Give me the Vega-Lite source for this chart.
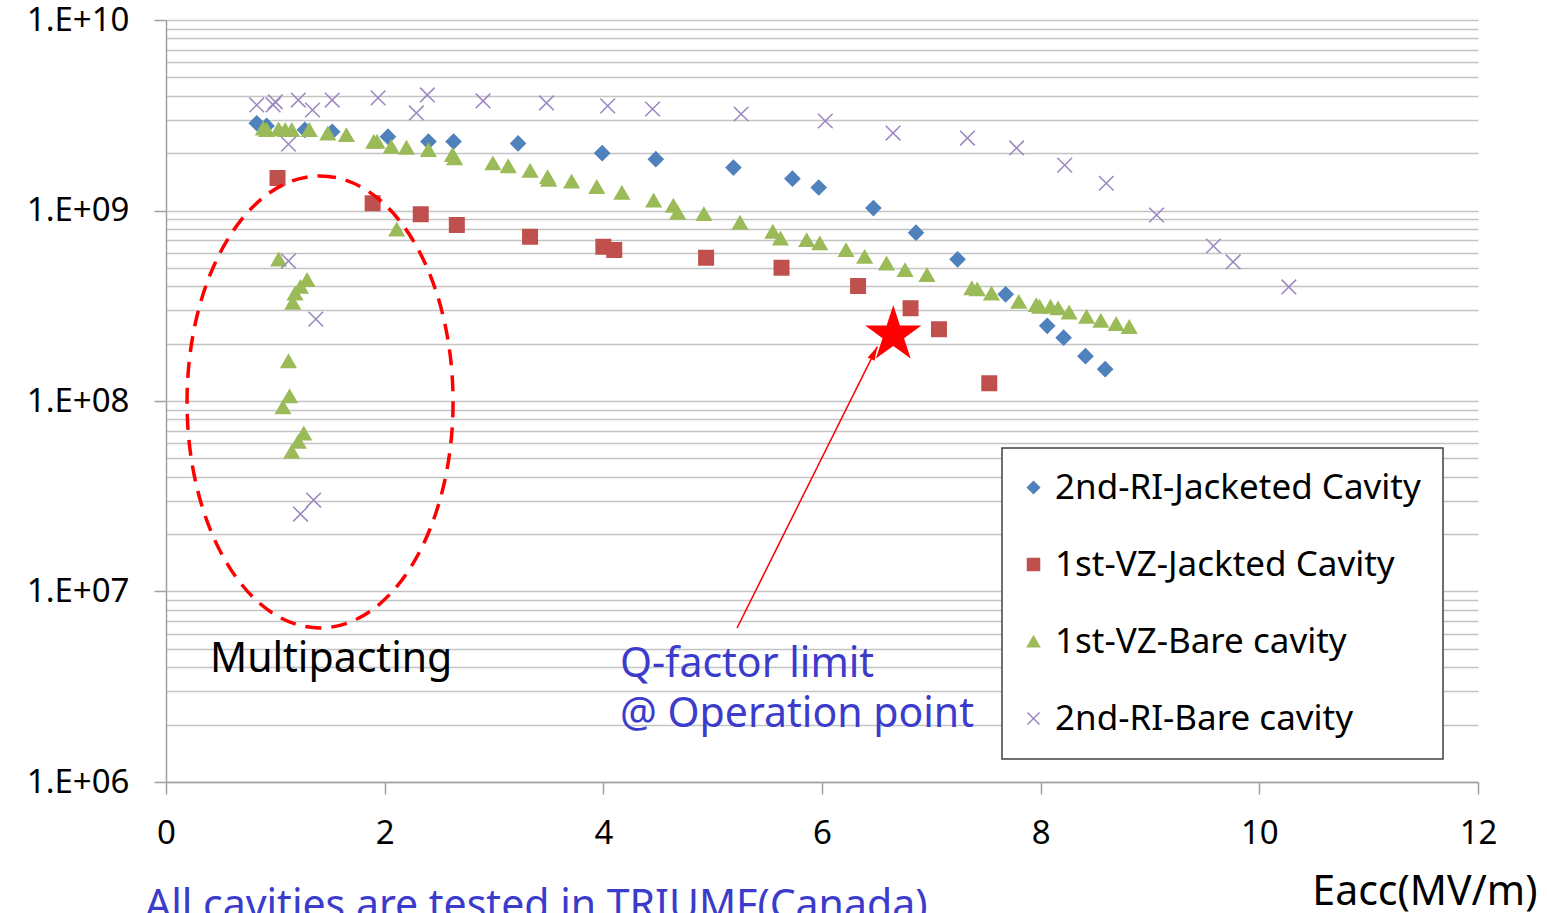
{
  "$schema": "https://vega.github.io/schema/vega-lite/v6.json",
  "autosize": {"type": "none"},
  "padding": {"left": 166, "top": 20, "right": 69, "bottom": 131},
  "width": 1312,
  "height": 762,
  "background": "white",
  "config": {
    "font": "Noto Sans",
    "view": {"stroke": null},
    "legend": {"strokeWidth": 1.5}
  },
  "datasets": {
    "pts": [
      {"s": "2nd-RI-Jacketed Cavity", "e": 0.83, "q": 2.87e9},
      {"s": "2nd-RI-Jacketed Cavity", "e": 0.92, "q": 2.78e9},
      {"s": "2nd-RI-Jacketed Cavity", "e": 1.27, "q": 2.65e9},
      {"s": "2nd-RI-Jacketed Cavity", "e": 1.52, "q": 2.59e9},
      {"s": "2nd-RI-Jacketed Cavity", "e": 2.03, "q": 2.44e9},
      {"s": "2nd-RI-Jacketed Cavity", "e": 2.40, "q": 2.30e9},
      {"s": "2nd-RI-Jacketed Cavity", "e": 2.63, "q": 2.30e9},
      {"s": "2nd-RI-Jacketed Cavity", "e": 3.22, "q": 2.25e9},
      {"s": "2nd-RI-Jacketed Cavity", "e": 3.99, "q": 2.00e9},
      {"s": "2nd-RI-Jacketed Cavity", "e": 4.48, "q": 1.86e9},
      {"s": "2nd-RI-Jacketed Cavity", "e": 5.19, "q": 1.68e9},
      {"s": "2nd-RI-Jacketed Cavity", "e": 5.73, "q": 1.47e9},
      {"s": "2nd-RI-Jacketed Cavity", "e": 5.97, "q": 1.32e9},
      {"s": "2nd-RI-Jacketed Cavity", "e": 6.47, "q": 1.03e9},
      {"s": "2nd-RI-Jacketed Cavity", "e": 6.86, "q": 7.65e8},
      {"s": "2nd-RI-Jacketed Cavity", "e": 7.24, "q": 5.54e8},
      {"s": "2nd-RI-Jacketed Cavity", "e": 7.68, "q": 3.63e8},
      {"s": "2nd-RI-Jacketed Cavity", "e": 8.06, "q": 2.48e8},
      {"s": "2nd-RI-Jacketed Cavity", "e": 8.21, "q": 2.15e8},
      {"s": "2nd-RI-Jacketed Cavity", "e": 8.41, "q": 1.72e8},
      {"s": "2nd-RI-Jacketed Cavity", "e": 8.59, "q": 1.47e8},
      {"s": "1st-VZ-Jackted Cavity", "e": 1.02, "q": 1.48e9},
      {"s": "1st-VZ-Jackted Cavity", "e": 1.89, "q": 1.09e9},
      {"s": "1st-VZ-Jackted Cavity", "e": 2.33, "q": 9.55e8},
      {"s": "1st-VZ-Jackted Cavity", "e": 2.66, "q": 8.39e8},
      {"s": "1st-VZ-Jackted Cavity", "e": 3.33, "q": 7.28e8},
      {"s": "1st-VZ-Jackted Cavity", "e": 4.00, "q": 6.45e8},
      {"s": "1st-VZ-Jackted Cavity", "e": 4.10, "q": 6.20e8},
      {"s": "1st-VZ-Jackted Cavity", "e": 4.94, "q": 5.65e8},
      {"s": "1st-VZ-Jackted Cavity", "e": 5.63, "q": 5.01e8},
      {"s": "1st-VZ-Jackted Cavity", "e": 6.33, "q": 4.02e8},
      {"s": "1st-VZ-Jackted Cavity", "e": 6.81, "q": 3.07e8},
      {"s": "1st-VZ-Jackted Cavity", "e": 7.07, "q": 2.38e8},
      {"s": "1st-VZ-Jackted Cavity", "e": 7.53, "q": 1.24e8},
      {"s": "1st-VZ-Bare cavity", "e": 0.89, "q": 2.70e9},
      {"s": "1st-VZ-Bare cavity", "e": 0.92, "q": 2.65e9},
      {"s": "1st-VZ-Bare cavity", "e": 1.03, "q": 2.67e9},
      {"s": "1st-VZ-Bare cavity", "e": 1.09, "q": 2.65e9},
      {"s": "1st-VZ-Bare cavity", "e": 1.15, "q": 2.65e9},
      {"s": "1st-VZ-Bare cavity", "e": 1.31, "q": 2.65e9},
      {"s": "1st-VZ-Bare cavity", "e": 1.48, "q": 2.54e9},
      {"s": "1st-VZ-Bare cavity", "e": 1.65, "q": 2.49e9},
      {"s": "1st-VZ-Bare cavity", "e": 1.90, "q": 2.30e9},
      {"s": "1st-VZ-Bare cavity", "e": 1.93, "q": 2.30e9},
      {"s": "1st-VZ-Bare cavity", "e": 2.06, "q": 2.16e9},
      {"s": "1st-VZ-Bare cavity", "e": 2.20, "q": 2.14e9},
      {"s": "1st-VZ-Bare cavity", "e": 2.40, "q": 2.08e9},
      {"s": "1st-VZ-Bare cavity", "e": 2.62, "q": 1.96e9},
      {"s": "1st-VZ-Bare cavity", "e": 2.64, "q": 1.88e9},
      {"s": "1st-VZ-Bare cavity", "e": 2.99, "q": 1.77e9},
      {"s": "1st-VZ-Bare cavity", "e": 3.13, "q": 1.71e9},
      {"s": "1st-VZ-Bare cavity", "e": 3.33, "q": 1.62e9},
      {"s": "1st-VZ-Bare cavity", "e": 3.49, "q": 1.50e9},
      {"s": "1st-VZ-Bare cavity", "e": 3.50, "q": 1.45e9},
      {"s": "1st-VZ-Bare cavity", "e": 3.71, "q": 1.42e9},
      {"s": "1st-VZ-Bare cavity", "e": 3.94, "q": 1.33e9},
      {"s": "1st-VZ-Bare cavity", "e": 4.17, "q": 1.24e9},
      {"s": "1st-VZ-Bare cavity", "e": 4.46, "q": 1.13e9},
      {"s": "1st-VZ-Bare cavity", "e": 4.64, "q": 1.06e9},
      {"s": "1st-VZ-Bare cavity", "e": 4.68, "q": 9.74e8},
      {"s": "1st-VZ-Bare cavity", "e": 4.92, "q": 9.59e8},
      {"s": "1st-VZ-Bare cavity", "e": 5.25, "q": 8.63e8},
      {"s": "1st-VZ-Bare cavity", "e": 5.55, "q": 7.74e8},
      {"s": "1st-VZ-Bare cavity", "e": 5.62, "q": 7.14e8},
      {"s": "1st-VZ-Bare cavity", "e": 5.86, "q": 7.00e8},
      {"s": "1st-VZ-Bare cavity", "e": 5.98, "q": 6.73e8},
      {"s": "1st-VZ-Bare cavity", "e": 6.22, "q": 6.20e8},
      {"s": "1st-VZ-Bare cavity", "e": 6.39, "q": 5.72e8},
      {"s": "1st-VZ-Bare cavity", "e": 6.59, "q": 5.28e8},
      {"s": "1st-VZ-Bare cavity", "e": 6.76, "q": 4.87e8},
      {"s": "1st-VZ-Bare cavity", "e": 6.96, "q": 4.59e8},
      {"s": "1st-VZ-Bare cavity", "e": 7.37, "q": 3.91e8},
      {"s": "1st-VZ-Bare cavity", "e": 7.42, "q": 3.86e8},
      {"s": "1st-VZ-Bare cavity", "e": 7.55, "q": 3.67e8},
      {"s": "1st-VZ-Bare cavity", "e": 7.80, "q": 3.32e8},
      {"s": "1st-VZ-Bare cavity", "e": 7.96, "q": 3.19e8},
      {"s": "1st-VZ-Bare cavity", "e": 7.99, "q": 3.13e8},
      {"s": "1st-VZ-Bare cavity", "e": 8.09, "q": 3.13e8},
      {"s": "1st-VZ-Bare cavity", "e": 8.16, "q": 3.07e8},
      {"s": "1st-VZ-Bare cavity", "e": 8.26, "q": 2.92e8},
      {"s": "1st-VZ-Bare cavity", "e": 8.42, "q": 2.77e8},
      {"s": "1st-VZ-Bare cavity", "e": 8.55, "q": 2.64e8},
      {"s": "1st-VZ-Bare cavity", "e": 8.69, "q": 2.54e8},
      {"s": "1st-VZ-Bare cavity", "e": 8.81, "q": 2.45e8},
      {"s": "1st-VZ-Bare cavity", "e": 1.03, "q": 5.54e8},
      {"s": "1st-VZ-Bare cavity", "e": 1.29, "q": 4.32e8},
      {"s": "1st-VZ-Bare cavity", "e": 1.23, "q": 3.98e8},
      {"s": "1st-VZ-Bare cavity", "e": 1.18, "q": 3.67e8},
      {"s": "1st-VZ-Bare cavity", "e": 1.16, "q": 3.28e8},
      {"s": "1st-VZ-Bare cavity", "e": 1.12, "q": 1.62e8},
      {"s": "1st-VZ-Bare cavity", "e": 1.13, "q": 1.06e8},
      {"s": "1st-VZ-Bare cavity", "e": 1.07, "q": 9.27e7},
      {"s": "1st-VZ-Bare cavity", "e": 1.26, "q": 6.76e7},
      {"s": "1st-VZ-Bare cavity", "e": 1.21, "q": 6.11e7},
      {"s": "1st-VZ-Bare cavity", "e": 1.15, "q": 5.42e7},
      {"s": "1st-VZ-Bare cavity", "e": 2.11, "q": 7.96e8},
      {"s": "2nd-RI-Bare cavity", "e": 0.83, "q": 3.58e9},
      {"s": "2nd-RI-Bare cavity", "e": 0.98, "q": 3.58e9},
      {"s": "2nd-RI-Bare cavity", "e": 1.00, "q": 3.72e9},
      {"s": "2nd-RI-Bare cavity", "e": 1.21, "q": 3.80e9},
      {"s": "2nd-RI-Bare cavity", "e": 1.34, "q": 3.37e9},
      {"s": "2nd-RI-Bare cavity", "e": 1.52, "q": 3.80e9},
      {"s": "2nd-RI-Bare cavity", "e": 1.94, "q": 3.90e9},
      {"s": "2nd-RI-Bare cavity", "e": 2.29, "q": 3.25e9},
      {"s": "2nd-RI-Bare cavity", "e": 2.39, "q": 4.04e9},
      {"s": "2nd-RI-Bare cavity", "e": 2.90, "q": 3.76e9},
      {"s": "2nd-RI-Bare cavity", "e": 3.48, "q": 3.67e9},
      {"s": "2nd-RI-Bare cavity", "e": 4.04, "q": 3.54e9},
      {"s": "2nd-RI-Bare cavity", "e": 4.45, "q": 3.41e9},
      {"s": "2nd-RI-Bare cavity", "e": 5.26, "q": 3.21e9},
      {"s": "2nd-RI-Bare cavity", "e": 6.03, "q": 2.95e9},
      {"s": "2nd-RI-Bare cavity", "e": 6.65, "q": 2.55e9},
      {"s": "2nd-RI-Bare cavity", "e": 7.33, "q": 2.40e9},
      {"s": "2nd-RI-Bare cavity", "e": 7.78, "q": 2.13e9},
      {"s": "2nd-RI-Bare cavity", "e": 8.22, "q": 1.73e9},
      {"s": "2nd-RI-Bare cavity", "e": 8.60, "q": 1.39e9},
      {"s": "2nd-RI-Bare cavity", "e": 9.06, "q": 9.47e8},
      {"s": "2nd-RI-Bare cavity", "e": 9.58, "q": 6.51e8},
      {"s": "2nd-RI-Bare cavity", "e": 9.76, "q": 5.37e8},
      {"s": "2nd-RI-Bare cavity", "e": 10.27, "q": 3.97e8},
      {"s": "2nd-RI-Bare cavity", "e": 1.12, "q": 2.23e9},
      {"s": "2nd-RI-Bare cavity", "e": 1.12, "q": 5.43e8},
      {"s": "2nd-RI-Bare cavity", "e": 1.37, "q": 2.69e8},
      {"s": "2nd-RI-Bare cavity", "e": 1.35, "q": 3.02e7},
      {"s": "2nd-RI-Bare cavity", "e": 1.23, "q": 2.55e7}
    ],
    "ellipse": [{"e": 1.409, "q": 9.89e7}],
    "arrow": [{"e": 5.223, "q": 6.43e6, "e2": 6.506, "q2": 1.93e8}],
    "arrowhead": [{"e": 6.478, "q": 1.79e8}],
    "star": [{"e": 6.652, "q": 2.23e8}],
    "blackText": [{"label": "Multipacting", "e": 0.402, "q": 3.78e6}],
    "blueText": [
      {"label": "Q-factor limit", "e": 4.153, "q": 3.56e6},
      {"label": "@ Operation point", "e": 4.153, "q": 1.95e6},
      {"label": "All cavities are tested in TRIUMF(Canada)", "e": -0.192, "q": 1.91e5}
    ]
  },
  "encoding": {
    "x": {
      "field": "e",
      "type": "quantitative",
      "scale": {"domain": [0, 12], "nice": false, "zero": false},
      "axis": {
        "values": [0, 2, 4, 6, 8, 10, 12],
        "grid": false,
        "domainColor": "#a0a0a0",
        "domainWidth": 1.5,
        "tickColor": "#a0a0a0",
        "tickWidth": 1.5,
        "tickSize": 12,
        "labelFontSize": 33,
        "labelColor": "black",
        "labelPadding": 23,
        "labelFlush": false,
        "title": "Eacc(MV/m)",
        "titleFontSize": 41,
        "titleFontWeight": "normal",
        "titleColor": "black",
        "titleAlign": "right",
        "titleBaseline": "alphabetic",
        "titleX": 1371,
        "titleY": 122
      }
    },
    "y": {
      "field": "q",
      "type": "quantitative",
      "scale": {"type": "log", "domain": [1000000, 10000000000], "nice": false},
      "axis": {
        "values": [1000000, 2000000, 3000000, 4000000, 5000000, 6000000, 7000000, 8000000, 9000000,
                   10000000, 20000000, 30000000, 40000000, 50000000, 60000000, 70000000, 80000000, 90000000,
                   100000000, 200000000, 300000000, 400000000, 500000000, 600000000, 700000000, 800000000, 900000000,
                   1000000000, 2000000000, 3000000000, 4000000000, 5000000000, 6000000000, 7000000000, 8000000000, 9000000000,
                   10000000000],
        "title": null,
        "grid": true,
        "gridColor": "#c4c4c4",
        "gridWidth": 1.4,
        "domainColor": "#a0a0a0",
        "domainWidth": 1.5,
        "tickColor": "#a0a0a0",
        "tickWidth": 1.5,
        "tickSize": 12,
        "tickOpacity": {"condition": {"test": "abs(log(datum.value)/LN10 - round(log(datum.value)/LN10)) < 0.001", "value": 1}, "value": 0},
        "labelExpr": "abs(log(datum.value)/LN10 - round(log(datum.value)/LN10)) < 0.001 ? '1.E+' + (round(log(datum.value)/LN10) < 10 ? '0' : '') + round(log(datum.value)/LN10) : ''",
        "labelFontSize": 33,
        "labelColor": "black",
        "labelPadding": 25,
        "labelFlush": false,
        "labelOverlap": false
      }
    }
  },
  "layer": [
    {
      "data": {"name": "pts"},
      "mark": {"type": "point", "opacity": 1, "strokeWidth": 1.5},
      "encoding": {
        "fill": {
          "field": "s", "type": "nominal",
          "scale": {
            "domain": ["2nd-RI-Jacketed Cavity", "1st-VZ-Jackted Cavity", "1st-VZ-Bare cavity", "2nd-RI-Bare cavity"],
            "range": ["#4F81BD", "#C0504D", "#9BBB59", "#8064A2"]
          },
          "legend": {
            "title": null, "orient": "none", "legendX": 836, "legendY": 428,
            "labelFontSize": 35, "labelColor": "black", "labelLimit": 700,
            "symbolSize": 144, "padding": 22, "rowPadding": 41, "labelOffset": 4, "symbolOffset": -8,
            "strokeColor": "#404040", "fillColor": "white", "symbolStrokeWidth": 1.5
          }
        },
        "stroke": {
          "field": "s", "type": "nominal",
          "scale": {
            "domain": ["2nd-RI-Jacketed Cavity", "1st-VZ-Jackted Cavity", "1st-VZ-Bare cavity", "2nd-RI-Bare cavity"],
            "range": ["#4F81BD", "#C0504D", "#9BBB59", "#9A86C0"]
          },
          "legend": {
            "title": null, "orient": "none", "legendX": 836, "legendY": 428,
            "labelFontSize": 35, "labelColor": "black", "labelLimit": 700,
            "symbolSize": 144, "padding": 22, "rowPadding": 41, "labelOffset": 4, "symbolOffset": -8,
            "strokeColor": "#404040", "fillColor": "white", "symbolStrokeWidth": 1.5
          }
        },
        "shape": {
          "field": "s", "type": "nominal",
          "scale": {
            "domain": ["2nd-RI-Jacketed Cavity", "1st-VZ-Jackted Cavity", "1st-VZ-Bare cavity", "2nd-RI-Bare cavity"],
            "range": ["diamond", "square", "triangle-up", "M-1,-1L1,1M-1,1L1,-1"]
          },
          "legend": {
            "title": null, "orient": "none", "legendX": 836, "legendY": 428,
            "labelFontSize": 35, "labelColor": "black", "labelLimit": 700,
            "symbolSize": 144, "padding": 22, "rowPadding": 41, "labelOffset": 4, "symbolOffset": -8,
            "strokeColor": "#404040", "fillColor": "white", "symbolStrokeWidth": 1.5
          }
        },
        "size": {
          "field": "s", "type": "nominal",
          "scale": {
            "domain": ["1st-VZ-Jackted Cavity", "2nd-RI-Jacketed Cavity", "1st-VZ-Bare cavity", "2nd-RI-Bare cavity"],
            "range": [210, 215, 400, 256]
          },
          "legend": null
        }
      }
    },
    {
      "data": {"name": "ellipse"},
      "mark": {
        "type": "point", "filled": false, "opacity": 1,
        "shape": "M0,-1C0.325,-1 0.5885,-0.5523 0.5885,0C0.5885,0.5523 0.325,1 0,1C-0.325,1 -0.5885,0.5523 -0.5885,0C-0.5885,-0.5523 -0.325,-1 0,-1Z",
        "size": 204304, "stroke": "#FF0000", "strokeWidth": 3.5, "strokeDash": [16, 10]
      }
    },
    {
      "data": {"name": "arrow"},
      "mark": {"type": "rule", "color": "#FF0000", "strokeWidth": 1.5},
      "encoding": {
        "x2": {"field": "e2"},
        "y2": {"field": "q2"}
      }
    },
    {
      "data": {"name": "arrowhead"},
      "mark": {
        "type": "point", "filled": true, "opacity": 1, "color": "#FF0000",
        "shape": "M0,-1L0.55,1L-0.55,1Z", "size": 196, "angle": 26.5
      }
    },
    {
      "data": {"name": "star"},
      "mark": {
        "type": "point", "filled": true, "opacity": 1, "color": "#FF0000",
        "shape": "M0,-1L0.2245,-0.309L0.951,-0.309L0.363,0.118L0.588,0.809L0,0.382L-0.588,0.809L-0.363,0.118L-0.951,-0.309L-0.2245,-0.309Z",
        "size": 3500
      }
    },
    {
      "data": {"name": "blackText"},
      "mark": {"type": "text", "align": "left", "baseline": "alphabetic", "fontSize": 41, "color": "black"},
      "encoding": {"text": {"field": "label"}}
    },
    {
      "data": {"name": "blueText"},
      "mark": {"type": "text", "align": "left", "baseline": "alphabetic", "fontSize": 41, "color": "#3B3BCC"},
      "encoding": {"text": {"field": "label"}}
    }
  ]
}
